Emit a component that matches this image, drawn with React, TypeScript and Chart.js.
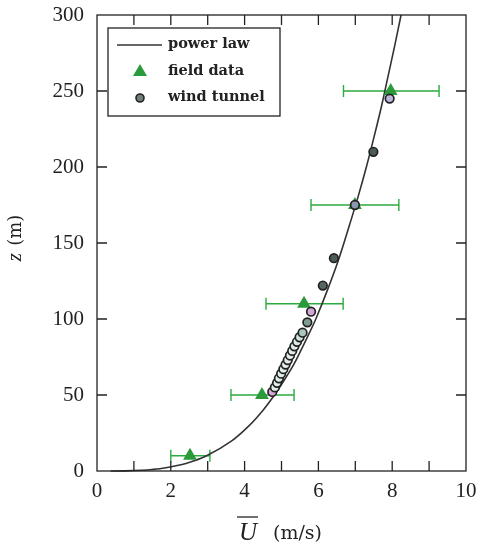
import { useEffect, useRef } from "react";
import { Chart, registerables } from "chart.js";
Chart.register(...registerables);

// power law profile (z in m, U in m/s)
const powerLawZ = [0.01, 0.1, 0.5, 1, 2, 5, 10, 20, 30, 40, 50, 60, 70, 80, 90, 100, 120, 140, 160, 180, 200, 220, 240, 260, 280, 300];
const powerLawU = [0.37, 0.75, 1.22, 1.49, 1.83, 2.41, 2.97, 3.66, 4.13, 4.5, 4.81, 5.08, 5.33, 5.54, 5.74, 5.93, 6.26, 6.56, 6.82, 7.07, 7.3, 7.51, 7.71, 7.89, 8.07, 8.24];

// field data with horizontal error bars
const fieldZ = [10, 50, 110, 175, 250];
const fieldU = [2.52, 4.47, 5.61, 6.99, 7.96];
const fieldLow = [2.0, 3.63, 4.58, 5.8, 6.68];
const fieldHigh = [3.06, 5.34, 6.67, 8.18, 9.27];

// wind tunnel
const tunnelZ = [52, 55, 58, 61, 64, 67, 70, 73, 76, 79, 82, 85, 88, 91, 97.8, 104.8, 122, 140, 175, 210, 245];
const tunnelU = [4.75, 4.82, 4.88, 4.93, 4.99, 5.05, 5.11, 5.17, 5.23, 5.29, 5.35, 5.42, 5.49, 5.57, 5.7, 5.8, 6.12, 6.42, 6.99, 7.49, 7.93];
const tunnelColors = [
  "#d8a8d8", "#e2efe8", "#e2efe8", "#e2efe8", "#e2efe8", "#e2efe8", "#e2efe8", "#e2efe8", "#e2efe8",
  "#e2efe8", "#e2efe8", "#dcece4", "#cfe4da", "#a9c8bb", "#7f9c90", "#d3a6d6", "#55675f", "#4b5d55",
  "#8a98b0", "#4b5d55", "#bdb6dc",
];

const xTickValues = [0, 2, 4, 6, 8, 10];
const yTickValues = [0, 50, 100, 150, 200, 250, 300];

const FONT = "'DejaVu Serif', serif";
const TICKFONT = "'Liberation Serif', serif";
const GREEN = "#2a9a3a";
const INK = "#222";

const framePlugin = {
  id: "frame",
  beforeDatasetsDraw(chart: any) {
    const { ctx, scales } = chart;
    const x = scales.x, y = scales.y;
    ctx.save();
    ctx.strokeStyle = "#2bab3f";
    ctx.lineWidth = 1.4;
    for (let i = 0; i < fieldZ.length; i++) {
      const py = y.getPixelForValue(fieldZ[i]);
      const x1 = x.getPixelForValue(fieldLow[i]);
      const x2 = x.getPixelForValue(fieldHigh[i]);
      ctx.beginPath();
      ctx.moveTo(x1, py); ctx.lineTo(x2, py);
      ctx.moveTo(x1, py - 6); ctx.lineTo(x1, py + 6);
      ctx.moveTo(x2, py - 6); ctx.lineTo(x2, py + 6);
      ctx.stroke();
    }
    ctx.restore();
  },
  afterDraw(chart: any) {
    const { ctx, chartArea: a, scales } = chart;
    const x = scales.x, y = scales.y;
    ctx.save();
    ctx.strokeStyle = INK;
    ctx.lineWidth = 1.3;
    ctx.strokeRect(a.left, a.top, a.right - a.left, a.bottom - a.top);
    ctx.beginPath();
    for (let v = 1; v < 10; v++) {
      const px = x.getPixelForValue(v);
      ctx.moveTo(px, a.bottom); ctx.lineTo(px, a.bottom - 10);
      ctx.moveTo(px, a.top); ctx.lineTo(px, a.top + 10);
    }
    for (let v = 50; v < 300; v += 50) {
      const py = y.getPixelForValue(v);
      ctx.moveTo(a.left, py); ctx.lineTo(a.left + 10, py);
      ctx.moveTo(a.right, py); ctx.lineTo(a.right - 10, py);
    }
    ctx.stroke();

    // legend
    const lx = 108, ly = 28, lw = 172, lh = 88;
    ctx.fillStyle = "#fff";
    ctx.fillRect(lx, ly, lw, lh);
    ctx.lineWidth = 1.3;
    ctx.strokeRect(lx, ly, lw, lh);
    ctx.beginPath();
    ctx.lineWidth = 1.6;
    ctx.strokeStyle = "#333";
    ctx.moveTo(117, 45); ctx.lineTo(162, 45);
    ctx.stroke();
    ctx.fillStyle = GREEN;
    ctx.beginPath();
    ctx.moveTo(140, 64); ctx.lineTo(147, 76); ctx.lineTo(133, 76); ctx.closePath();
    ctx.fill();
    ctx.beginPath();
    ctx.arc(140, 98, 4, 0, Math.PI * 2);
    ctx.fillStyle = "#6f7f78";
    ctx.fill();
    ctx.lineWidth = 1.6;
    ctx.strokeStyle = INK;
    ctx.stroke();
    ctx.fillStyle = INK;
    ctx.font = `bold 14.5px ${FONT}`;
    ctx.textBaseline = "middle";
    ctx.textAlign = "left";
    ctx.fillText("power law", 168, 44);
    ctx.fillText("field data", 168, 71);
    ctx.fillText("wind tunnel", 168, 97);

    // x title
    ctx.font = `italic 25px ${TICKFONT}`;
    ctx.textBaseline = "alphabetic";
    const uW = ctx.measureText("U").width;
    const ux = 239;
    ctx.fillText("U", ux, 540);
    ctx.beginPath();
    ctx.lineWidth = 1.3;
    ctx.moveTo(ux - 2, 517); ctx.lineTo(ux + uW + 1, 517);
    ctx.stroke();
    ctx.font = `19px ${FONT}`;
    ctx.fillText("(m/s)", 273, 539);

    // y title
    ctx.save();
    ctx.translate(21, 238);
    ctx.rotate(-Math.PI / 2);
    ctx.font = `italic 21px ${TICKFONT}`;
    const zW = ctx.measureText("z ").width + 2;
    ctx.font = `18px ${FONT}`;
    const mW = ctx.measureText("(m)").width;
    const start = -(zW + mW) / 2;
    ctx.textAlign = "left";
    ctx.font = `italic 21px ${TICKFONT}`;
    ctx.fillText("z", start, 0);
    ctx.font = `18px ${FONT}`;
    ctx.fillText("(m)", start + zW, 0);
    ctx.restore();

    ctx.restore();
  },
};

export default function App() {
  const ref = useRef<HTMLCanvasElement>(null);
  useEffect(() => {
    document.body.style.margin = "0";
    const chart = new Chart(ref.current!, {
      type: "scatter",
      data: {
        datasets: [
          {
            label: "power law",
            data: powerLawZ.map((z, i) => ({ x: powerLawU[i], y: z })),
            showLine: true,
            borderColor: "#333",
            borderWidth: 1.6,
            pointRadius: 0,
            tension: 0.3,
            order: 3,
          } as any,
          {
            label: "field data",
            data: fieldZ.map((z, i) => ({ x: fieldU[i], y: z })),
            pointStyle: "triangle",
            pointRadius: 8,
            backgroundColor: GREEN,
            borderColor: GREEN,
            borderWidth: 0,
            order: 2,
          },
          {
            label: "wind tunnel",
            data: tunnelZ.map((z, i) => ({ x: tunnelU[i], y: z })),
            pointStyle: "circle",
            pointRadius: 4.3,
            backgroundColor: tunnelColors,
            borderColor: INK,
            borderWidth: 1.7,
            order: 1,
          },
        ],
      },
      options: {
        animation: false,
        responsive: false,
        clip: false as any,
        layout: { padding: { top: 15, right: 11, left: 0, bottom: 0 } },
        plugins: { legend: { display: false }, tooltip: { enabled: false } },
        scales: {
          x: {
            type: "linear",
            min: 0,
            max: 10,
            afterFit: (s: any) => { s.height = 78; s.paddingLeft = 0; s.paddingRight = 0; },
            afterBuildTicks: (s: any) => { s.ticks = xTickValues.map((v) => ({ value: v })); },
            grid: { display: false, drawTicks: false },
            border: { display: false },
            ticks: { color: INK, font: { family: TICKFONT, size: 21 }, padding: 8, maxRotation: 0 },
          },
          y: {
            type: "linear",
            min: 0,
            max: 300,
            afterFit: (s: any) => { s.width = 97; s.paddingTop = 0; s.paddingBottom = 0; },
            afterBuildTicks: (s: any) => { s.ticks = yTickValues.map((v) => ({ value: v })); },
            grid: { display: false, drawTicks: false },
            border: { display: false },
            ticks: { color: INK, font: { family: TICKFONT, size: 21 }, padding: 13 },
          },
        },
      },
      plugins: [framePlugin],
    });
    return () => chart.destroy();
  }, []);
  return <canvas ref={ref} width={477} height={549} style={{ display: "block" }} />;
}
